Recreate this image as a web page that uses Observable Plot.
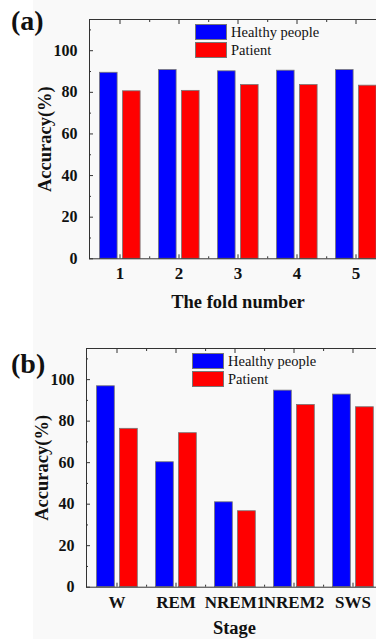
<!DOCTYPE html>
<html>
<head>
<meta charset="utf-8">
<script src="https://cdn.jsdelivr.net/npm/d3@7"></script>
<script src="https://cdn.jsdelivr.net/npm/@observablehq/plot@0.6"></script>
<style>
  html, body { margin: 0; padding: 0; width: 376px; height: 639px; overflow: hidden; background: #ffffff; }
  #bg { position: absolute; left: 33px; top: 0; width: 343px; height: 639px; background: #f9f9f9; }
  .panel { position: absolute; left: 0; width: 400px; }
  .tag { position: absolute; font-family: "Liberation Serif", "Times New Roman", serif; font-weight: bold; font-size: 28px; line-height: 1; color: #111; }
  .leg { position: absolute; font-family: "Liberation Serif", "Times New Roman", serif; font-size: 14.5px; color: #111; }
  .sw { position: absolute; width: 32px; height: 16px; box-sizing: border-box; border: 1px solid #777; }
  .lt { position: absolute; white-space: nowrap; line-height: 1; }
</style>
</head>
<body>
<div id="bg"></div>
<div id="pa" class="panel" style="top:0px;height:320px"></div>
<div id="pb" class="panel" style="top:320px;height:319px"></div>
<script>
// ---- data ----
const series = ["Healthy people", "Patient"];
const seriesColors = ["#0000ff", "#ff0000"];
const folds = ["1", "2", "3", "4", "5"];
const healthyFold = [89.4, 90.7, 90.1, 90.4, 90.7];
const patientFold = [80.5, 80.7, 83.5, 83.5, 83.2];
const stages = ["W", "REM", "NREM1", "NREM2", "SWS"];
const healthyStage = [96.8, 60.2, 40.9, 94.7, 92.8];
const patientStage = [76.3, 74.2, 36.6, 87.8, 86.7];
const yTicks = [0, 20, 40, 60, 80, 100];
const yMinorTicks = [10, 30, 50, 70, 90, 110];
const yLabel = "Accuracy(%)";
const xLabelA = "The fold number";
const xLabelB = "Stage";

function makePanel({cats, healthy, patient, xTitle, titleDy, height, mt, mb, ml, mr}) {
  const width = 400;
  const step = (width - ml - mr) / cats.length;
  const half = step / 2;
  const rowsH = cats.map((c, i) => ({cat: c, v: healthy[i]}));
  const rowsP = cats.map((c, i) => ({cat: c, v: patient[i]}));
  const blank = () => "";
  return Plot.plot({
    width, height,
    marginTop: mt, marginBottom: mb, marginLeft: ml, marginRight: mr,
    style: {fontFamily: "'Liberation Serif', 'Times New Roman', serif", fontSize: "16px", fontWeight: "bold", color: "#111", background: "transparent", overflow: "visible"},
    x: {type: "band", domain: cats, padding: 0},
    y: {domain: [0, 115]},
    marks: [
      Plot.barY(rowsH, {x: "cat", y: "v", fill: seriesColors[0], stroke: "#777", strokeWidth: 0.8, insetLeft: 9.5, insetRight: step - 27.5}),
      Plot.barY(rowsP, {x: "cat", y: "v", fill: seriesColors[1], stroke: "#777", strokeWidth: 0.8, insetLeft: 32.5, insetRight: step - 50.5}),
      Plot.frame({stroke: "#333", strokeWidth: 1}),
      // y axis (inward ticks)
      Plot.axisY(yTicks, {anchor: "left", tickSize: -4, tickPadding: 16, label: null, stroke: "#333", fontSize: 16, fontWeight: "bold", fill: "#111"}),
      Plot.axisY(yMinorTicks, {anchor: "left", tickSize: -2, tickFormat: blank, label: null, stroke: "#333"}),
      // bottom x axis
      Plot.axisX({anchor: "bottom", tickSize: -4, tickPadding: 12.5, label: null, stroke: "#333", fontSize: 17, fontWeight: "bold", fill: "#111"}),
      Plot.axisX(cats, {anchor: "bottom", tickSize: -2, dx: half, tickFormat: blank, label: null, stroke: "#333"}),
      // top frame ticks
      Plot.axisX({anchor: "top", tickSize: -4, tickFormat: blank, label: null, stroke: "#333"}),
      Plot.axisX(cats, {anchor: "top", tickSize: -2, dx: half, tickFormat: blank, label: null, stroke: "#333"}),
      // titles
      Plot.text([yLabel], {text: d => d, frameAnchor: "left", textAnchor: "middle", lineAnchor: "middle", rotate: -90, dx: -44, fontSize: 18.5, fontWeight: "bold", fill: "#111"}),
      Plot.text([xTitle], {text: d => d, frameAnchor: "bottom", textAnchor: "middle", lineAnchor: "middle", dy: titleDy, fontSize: 18.5, fontWeight: "bold", fill: "#111"})
    ]
  });
}

function addOverlay(container, tag, tagTop, legX, legY) {
  const t = document.createElement("div");
  t.className = "tag"; t.textContent = tag;
  t.style.left = "11px"; t.style.top = tagTop + "px";
  container.appendChild(t);
  series.forEach((s, i) => {
    const sw = document.createElement("div");
    sw.className = "sw";
    sw.style.left = legX + "px"; sw.style.top = (legY + i * 18) + "px";
    sw.style.background = seriesColors[i];
    container.appendChild(sw);
    const lt = document.createElement("div");
    lt.className = "leg lt"; lt.textContent = s;
    lt.style.left = (legX + 36) + "px"; lt.style.top = (legY + i * 18 + 0.5) + "px";
    container.appendChild(lt);
  });
}

const pa = document.getElementById("pa");
pa.appendChild(makePanel({cats: folds, healthy: healthyFold, patient: patientFold, xTitle: xLabelA, titleDy: 43.7, height: 320, mt: 19, mb: 61.7, ml: 89, mr: 14}));
addOverlay(pa, "(a)", 7, 195, 24);

const pb = document.getElementById("pb");
pb.appendChild(makePanel({cats: stages, healthy: healthyStage, patient: patientStage, xTitle: xLabelB, titleDy: 40.5, height: 319, mt: 28, mb: 52.3, ml: 86, mr: 18}));
addOverlay(pb, "(b)", 30, 192, 33);
</script>
</body>
</html>
